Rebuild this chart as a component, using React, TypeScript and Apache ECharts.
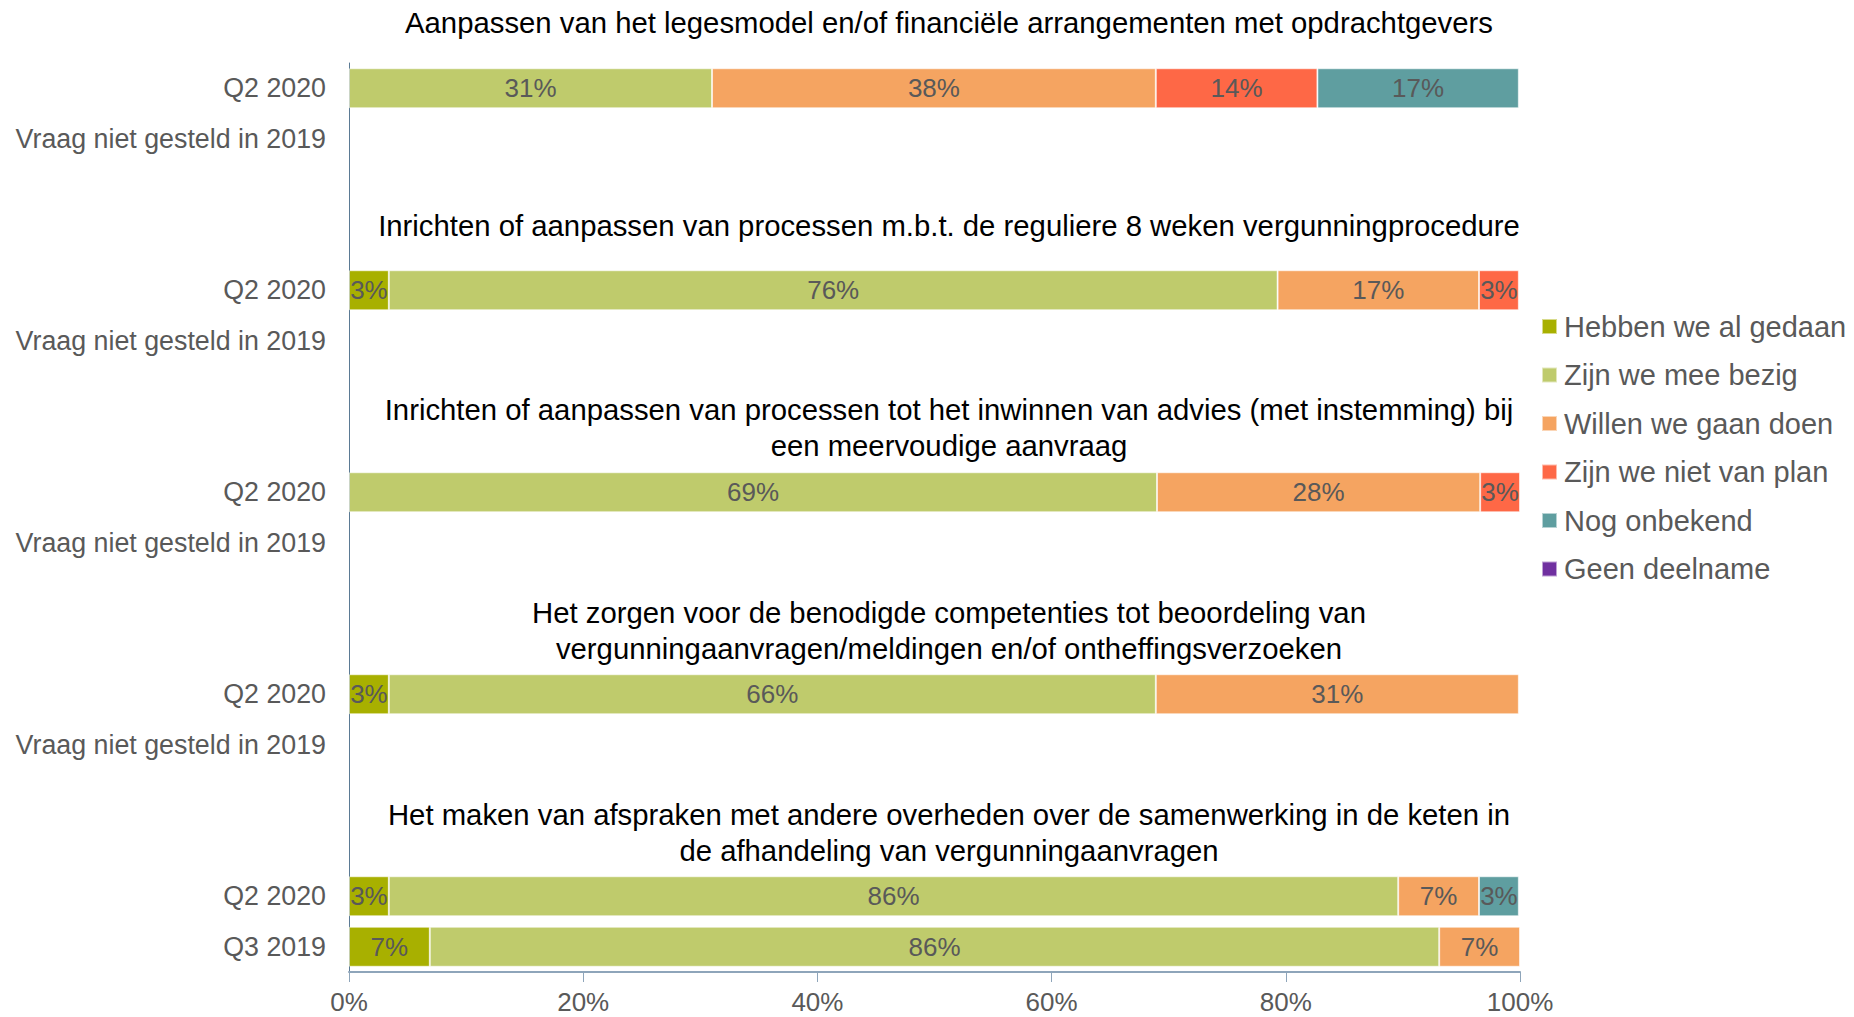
import React, { useEffect, useRef } from "react";
import * as echarts from "echarts";

// Row labels on the category axis (blank rows hold the question titles)
const rowLabels = [
  "Q2 2020", "Vraag niet gesteld in 2019", "", "",
  "Q2 2020", "Vraag niet gesteld in 2019", "", "",
  "Q2 2020", "Vraag niet gesteld in 2019", "", "",
  "Q2 2020", "Vraag niet gesteld in 2019", "", "",
  "Q2 2020", "Q3 2019",
];

const seriesNames = [
  "Hebben we al gedaan",
  "Zijn we mee bezig",
  "Willen we gaan doen",
  "Zijn we niet van plan",
  "Nog onbekend",
  "Geen deelname",
];

const N = null;
const hebben = [N, N, N, N, 3.4, N, N, N, N, N, N, N, 3.4, N, N, N, 3.4, 6.9];
const bezig = [31.0, N, N, N, 75.9, N, N, N, 69.0, N, N, N, 65.5, N, N, N, 86.2, 86.2];
const willen = [37.9, N, N, N, 17.2, N, N, N, 27.6, N, N, N, 31.0, N, N, N, 6.9, 6.9];
const nietPlan = [13.8, N, N, N, 3.4, N, N, N, 3.4, N, N, N, N, N, N, N, N, N];
const onbekend = [17.2, N, N, N, N, N, N, N, N, N, N, N, N, N, N, N, 3.4, N];
const geen = [N, N, N, N, N, N, N, N, N, N, N, N, N, N, N, N, N, N];

const questionTitles = [
  "Aanpassen van het legesmodel en/of financiële arrangementen met opdrachtgevers",
  "Inrichten of aanpassen van processen m.b.t. de reguliere 8 weken vergunningprocedure",
  "Inrichten of aanpassen van processen tot het inwinnen van advies (met instemming) bij\neen meervoudige aanvraag",
  "Het zorgen voor de benodigde competenties tot beoordeling van\nvergunningaanvragen/meldingen en/of ontheffingsverzoeken",
  "Het maken van afspraken met andere overheden over de samenwerking in de keten in\nde afhandeling van vergunningaanvragen",
];

const xTicks = [0, 20, 40, 60, 80, 100];

const colors = ["#A8B000", "#BFCB6C", "#F5A461", "#FE6846", "#5F9EA0", "#7030A0"];

const FONT = "'Liberation Sans', Arial, Helvetica, sans-serif";

export default function App() {
  const ref = useRef<HTMLDivElement>(null);

  useEffect(() => {
    if (!ref.current) return;
    const chart = echarts.init(ref.current, undefined, { renderer: "svg" });
    const values = [hebben, bezig, willen, nietPlan, onbekend, geen];
    const titleY = [22, 225, 427, 630, 832];

    const option: any = {
      animation: false,
      backgroundColor: "#ffffff",
      color: colors,
      textStyle: { fontFamily: FONT },
      grid: { left: 349, right: 334, top: 63, bottom: 45, containLabel: false },
      legend: {
        orient: "vertical",
        left: 1541,
        top: 312,
        padding: 0,
        icon: "rect",
        itemWidth: 15,
        itemHeight: 15,
        itemGap: 19.5,
        textStyle: { fontSize: 29, color: "#595959", fontFamily: FONT, padding: [0, 0, 0, 2] },
        data: seriesNames,
      },
      xAxis: {
        type: "value",
        min: xTicks[0],
        max: xTicks[xTicks.length - 1],
        interval: xTicks[1] - xTicks[0],
        axisLine: { show: true, lineStyle: { color: "#8EA5BA", width: 2 } },
        axisTick: { show: true, length: 10, lineStyle: { color: "#8EA5BA", width: 1 } },
        splitLine: { show: false },
        axisLabel: {
          formatter: "{value}%",
          fontSize: 26,
          color: "#595959",
          fontFamily: FONT,
          margin: 17,
        },
      },
      yAxis: {
        type: "category",
        inverse: true,
        data: rowLabels.map((_l, i) => `${i}`),
        axisLine: { show: true, lineStyle: { color: "#5B7A94", width: 1 } },
        axisTick: { show: false },
        axisLabel: {
          formatter: (_v: string, idx: number) => rowLabels[idx],
          fontSize: 26.8,
          color: "#595959",
          fontFamily: FONT,
          margin: 23,
          interval: 0,
        },
      },
      series: seriesNames.map((name, si) => ({
        name,
        type: "bar",
        stack: "total",
        barWidth: 40,
        data: values[si],
        itemStyle: { color: colors[si], borderColor: "rgba(255,255,255,0.55)", borderWidth: 1 },
        label: {
          show: true,
          position: "inside",
          fontSize: 26,
          color: "#595959",
          fontFamily: FONT,
          formatter: (p: any) => (p.value == null ? "" : `${Math.round(p.value)}%`),
        },
      })),
      graphic: questionTitles.map((t, i) => ({
        type: "text",
        x: 949,
        y: titleY[i],
        style: {
          text: t,
          fontSize: 29.3,
          fill: "#000000",
          fontFamily: FONT,
          textAlign: "center",
          textVerticalAlign: "middle",
          lineHeight: 36,
        },
      })),
    };
    chart.setOption(option);
    return () => chart.dispose();
  }, []);

  return (
    <div
      ref={ref}
      style={{ position: "fixed", left: 0, top: 0, width: 1854, height: 1017 }}
    />
  );
}
